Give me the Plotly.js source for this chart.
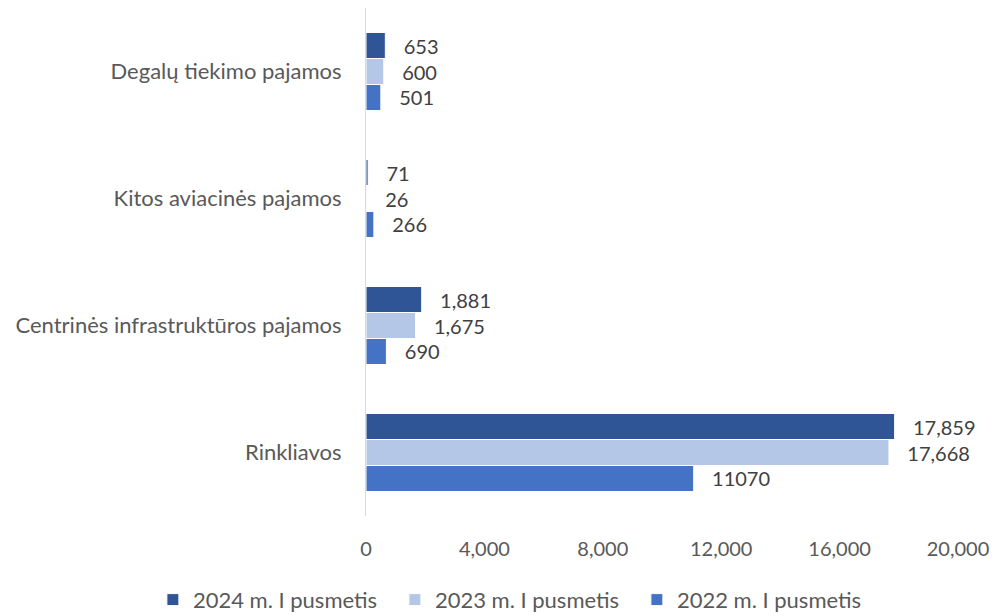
<!DOCTYPE html>
<html>
<head>
<meta charset="utf-8">
<script src="https://cdn.plot.ly/plotly-3.0.1.min.js"></script>
<style>html,body{margin:0;padding:0;background:#fff;}#chart{width:997px;height:616px;}</style>
</head>
<body>
<div id="chart"></div>
<script>
// Categories listed bottom to top
const categories = ["Rinkliavos", "Centrinės infrastruktūros pajamos", "Kitos aviacinės pajamos", "Degalų tiekimo pajamos"];
const seriesNames = ["2022 m. I pusmetis", "2023 m. I pusmetis", "2024 m. I pusmetis"];
const values2022 = [11070, 690, 266, 501];
const values2023 = [17668, 1675, 26, 600];
const values2024 = [17859, 1881, 71, 653];
const labels2022 = ["11070", "690", "266", "501"];
const labels2023 = ["17,668", "1,675", "26", "600"];
const labels2024 = ["17,859", "1,881", "71", "653"];
const xTicks = [0, 4000, 8000, 12000, 16000, 20000];
const xTickLabels = ["0", "4,000", "8,000", "12,000", "16,000", "20,000"];

const colors = ["#4472C4", "#B4C7E7", "#2F5597"];
const FONT = "Lato, 'Open Sans', sans-serif";
const pad = "\u00a0\u00a0\u00a0";

const allValues = [values2022, values2023, values2024];
const allLabels = [labels2022, labels2023, labels2024];

const traces = allValues.map((vals, i) => ({
  type: "bar",
  orientation: "h",
  name: seriesNames[i],
  y: categories,
  x: vals,
  text: allLabels[i].map(t => pad + t),
  textposition: "outside",
  cliponaxis: false,
  textfont: {family: FONT, size: 20, color: "#404040"},
  marker: {color: colors[i], line: {color: "#ffffff", width: 1}},
  hoverinfo: "x+name"
}));

const layout = {
  width: 997, height: 616,
  margin: {l: 366, r: 39, t: 8, b: 100, autoexpand: false},
  paper_bgcolor: "#fff", plot_bgcolor: "#fff",
  barmode: "group",
  bargap: 0.386,
  bargroupgap: 0,
  font: {family: FONT, size: 20, color: "#595959"},
  xaxis: {
    range: [0, 20000],
    tickvals: xTicks,
    ticktext: xTickLabels,
    showgrid: false,
    zeroline: false,
    showline: false,
    automargin: false,
    ticks: "outside", ticklen: 15, tickcolor: "rgba(0,0,0,0)",
    tickfont: {family: FONT, size: 20, color: "#595959"}
  },
  yaxis: {
    type: "category",
    categoryorder: "array",
    categoryarray: categories,
    showgrid: false,
    zeroline: false,
    automargin: false,
    showline: true, linecolor: "#D9D9D9", linewidth: 1,
    ticks: "outside", ticklen: 19, tickcolor: "rgba(0,0,0,0)",
    tickfont: {family: FONT, size: 22, color: "#595959"}
  },
  showlegend: true,
  legend: {
    orientation: "h",
    traceorder: "reversed",
    xref: "paper", x: -0.36, xanchor: "left",
    yref: "paper", y: -0.165, yanchor: "middle",
    font: {family: FONT, size: 22, color: "#595959"},
    itemwidth: 30,
    entrywidth: 197,
    entrywidthmode: "pixels"
  }
};

Plotly.newPlot("chart", traces, layout, {displayModeBar: false, staticPlot: true});
</script>
</body>
</html>
